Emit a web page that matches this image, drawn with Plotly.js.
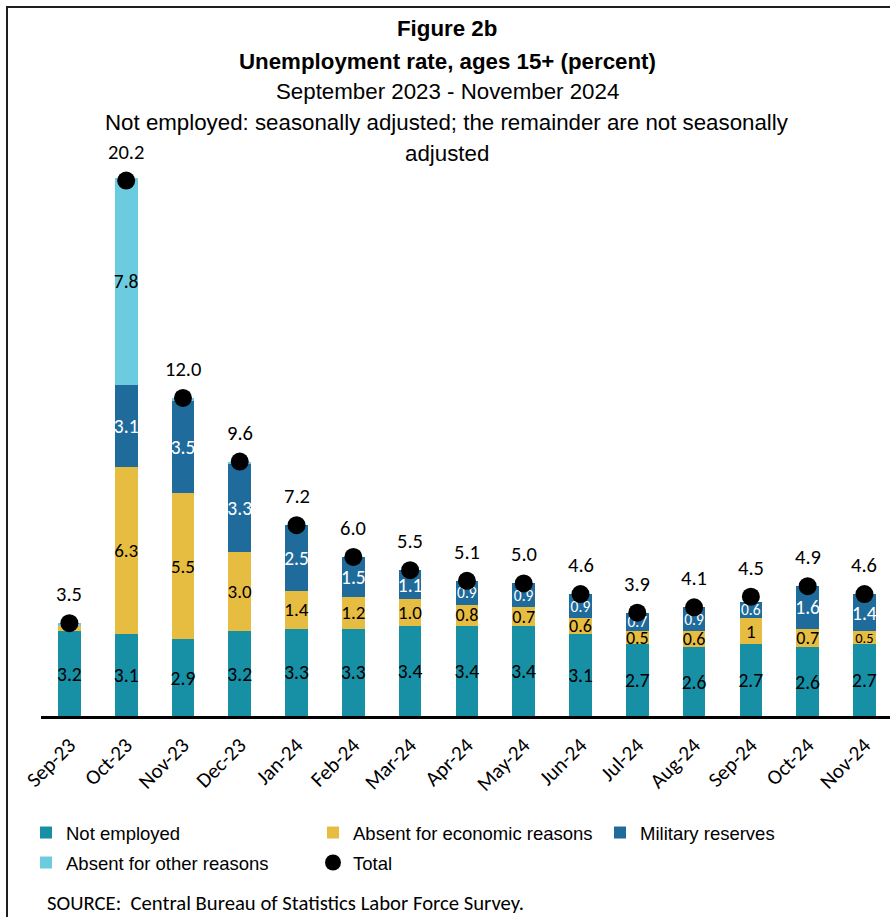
<!DOCTYPE html>
<html>
<head>
<meta charset="utf-8">
<script src="https://cdn.plot.ly/plotly-3.0.1.min.js"></script>
<style>
  html, body { margin: 0; padding: 0; background: #fff; }
  #chart { width: 890px; height: 917px; }
  #frame { position: absolute; left: 6px; top: 6px; width: 900px; height: 920px;
           border-left: 2.5px solid #1e1e1e; border-top: 2.5px solid #1e1e1e; pointer-events: none; }
</style>
</head>
<body>
<div id="chart"></div>
<div id="frame"></div>
<script>
// ---- data ----
const months = ['Sep-23','Oct-23','Nov-23','Dec-23','Jan-24','Feb-24','Mar-24','Apr-24','May-24','Jun-24','Jul-24','Aug-24','Sep-24','Oct-24','Nov-24'];
const notEmployed = [3.2, 3.1, 2.9, 3.2, 3.3, 3.3, 3.4, 3.4, 3.4, 3.1, 2.7, 2.6, 2.7, 2.6, 2.7];
const absentEconomic = [0.2, 6.3, 5.5, 3.0, 1.4, 1.2, 1.0, 0.8, 0.7, 0.6, 0.5, 0.6, 1.0, 0.7, 0.5];
const militaryReserves = [0, 3.1, 3.5, 3.3, 2.5, 1.5, 1.1, 0.9, 0.9, 0.9, 0.7, 0.9, 0.6, 1.6, 1.4];
const absentOther = [0.1, 7.8, 0.1, 0.1, 0, 0, 0, 0, 0, 0, 0, 0, 0, 0, 0];
const total = [3.5, 20.2, 12.0, 9.6, 7.2, 6.0, 5.5, 5.1, 5.0, 4.6, 3.9, 4.1, 4.5, 4.9, 4.6];

const notEmployedLabels = ['3.2','3.1','2.9','3.2','3.3','3.3','3.4','3.4','3.4','3.1','2.7','2.6','2.7','2.6','2.7'];
const economicLabels = ['','6.3','5.5','3.0','1.4','1.2','1.0','0.8','0.7','0.6','0.5','0.6','1','0.7','0.5'];
const militaryLabels = ['','3.1','3.5','3.3','2.5','1.5','1.1','0.9','0.9','0.9','0.7','0.9','0.6','1.6','1.4'];
const otherLabels = ['','7.8','','','','','','','','','','','','',''];
const totalLabels = ['3.5','20.2','12.0','9.6','7.2','6.0','5.5','5.1','5.0','4.6','3.9','4.1','4.5','4.9','4.6'];

const titleLines = [
  '<b>Figure 2b</b>',
  '<b>Unemployment rate, ages 15+ (percent)</b>',
  'September 2023 - November 2024',
  'Not employed: seasonally adjusted; the remainder are not seasonally',
  'adjusted'
];
const sourceText = 'SOURCE:  Central Bureau of Statistics Labor Force Survey.';

// ---- styling ----
const C_NOT = '#178FA5', C_ECO = '#E6BD40', C_MIL = '#1F6B9C', C_OTH = '#6BCCDF';
const numFont = 'Carlito, Calibri, Lato, sans-serif';
const txtFont = 'Arial, "Liberation Sans", sans-serif';

const W = 890, H = 917;
const M = {l: 41, r: 0, t: 170, b: 201};
const plotW = W - M.l - M.r, plotH = H - M.t - M.b;
const px2x = px => (px - M.l) / plotW;
const px2y = py => (H - M.b - py) / plotH;

function barTrace(name, vals, labels, color, txtColor, legend, sizes, lw) {
  return {
    type: 'bar', name: name, x: months, y: vals,
    text: labels, textposition: 'inside', insidetextanchor: 'middle',
    textangle: 0, constraintext: 'none',
    textfont: {family: numFont, size: sizes || 19.5, color: txtColor},
    marker: {color: color, line: {width: 0}},
    legend: legend, legendwidth: lw, hoverinfo: 'x+y+name'
  };
}

const ecoSizes = absentEconomic.map((v, i) => i === 14 ? 14.5 : (v < 1 ? 18 : 19));
const milSizes = militaryReserves.map(v => v < 1 ? 15.5 : 19.5);

const traces = [
  barTrace('Not employed', notEmployed, notEmployedLabels, C_NOT, '#000', 'legend', null, 242),
  barTrace('Absent for economic reasons', absentEconomic, economicLabels, C_ECO, '#000', 'legend', ecoSizes, 242),
  barTrace('Military reserves', militaryReserves, militaryLabels, C_MIL, '#fff', 'legend', milSizes, 150),
  barTrace('Absent for other reasons', absentOther, otherLabels, C_OTH, '#000', 'legend2', null, 242),
  {
    type: 'scatter', mode: 'markers', name: 'Total', x: months, y: total,
    marker: {color: '#000', size: 18}, legend: 'legend2', legendwidth: 100, cliponaxis: false
  }
];

const annotations = months.map((m, i) => ({
  x: m, y: total[i], xref: 'x', yref: 'y', text: totalLabels[i], showarrow: false,
  yshift: 29, font: {family: numFont, size: 20.5, color: '#000'}
}));

const titleY = [28, 61, 91, 122, 153];
titleLines.forEach((t, i) => annotations.push({
  x: px2x(447), y: px2y(titleY[i]), xref: 'paper', yref: 'paper', text: t,
  showarrow: false, xanchor: 'center', yanchor: 'middle',
  font: {family: txtFont, size: 22.3, color: '#000'}
}));
annotations.push({
  x: px2x(45), y: px2y(903), xref: 'paper', yref: 'paper', text: sourceText,
  showarrow: false, xanchor: 'left', yanchor: 'middle',
  font: {family: numFont, size: 20.7, color: '#000'}
});

const legendFont = {family: txtFont, size: 18.5, color: '#000'};
const legendBase = {
  orientation: 'h', xref: 'container', yref: 'container', traceorder: 'normal',
  x: 26 / W, xanchor: 'left', yanchor: 'middle',
  entrywidthmode: 'pixels', font: legendFont, bgcolor: 'rgba(0,0,0,0)'
};
const layout = {
  width: W, height: H, margin: M,
  paper_bgcolor: '#fff', plot_bgcolor: '#fff',
  barmode: 'stack', bargap: 0.6,
  showlegend: true,
  xaxis: {
    type: 'category', range: [-0.5, 14.45], tickangle: -45,
    showgrid: false, zeroline: false, showline: true, linecolor: '#000', linewidth: 2.5,
    ticks: '', ticklabelstandoff: 6,
    tickfont: {family: numFont, size: 21, color: '#000'}, fixedrange: true
  },
  yaxis: {
    range: [0, 20.6], showgrid: false, zeroline: false, showline: false,
    showticklabels: false, ticks: '', fixedrange: true
  },
  legend: Object.assign({}, legendBase, {y: 1 - 833 / H}),
  legend2: Object.assign({}, legendBase, {y: 1 - 863 / H}),
  annotations: annotations
};

Plotly.newPlot('chart', traces, layout, {displayModeBar: false, staticPlot: true});
</script>
</body>
</html>
